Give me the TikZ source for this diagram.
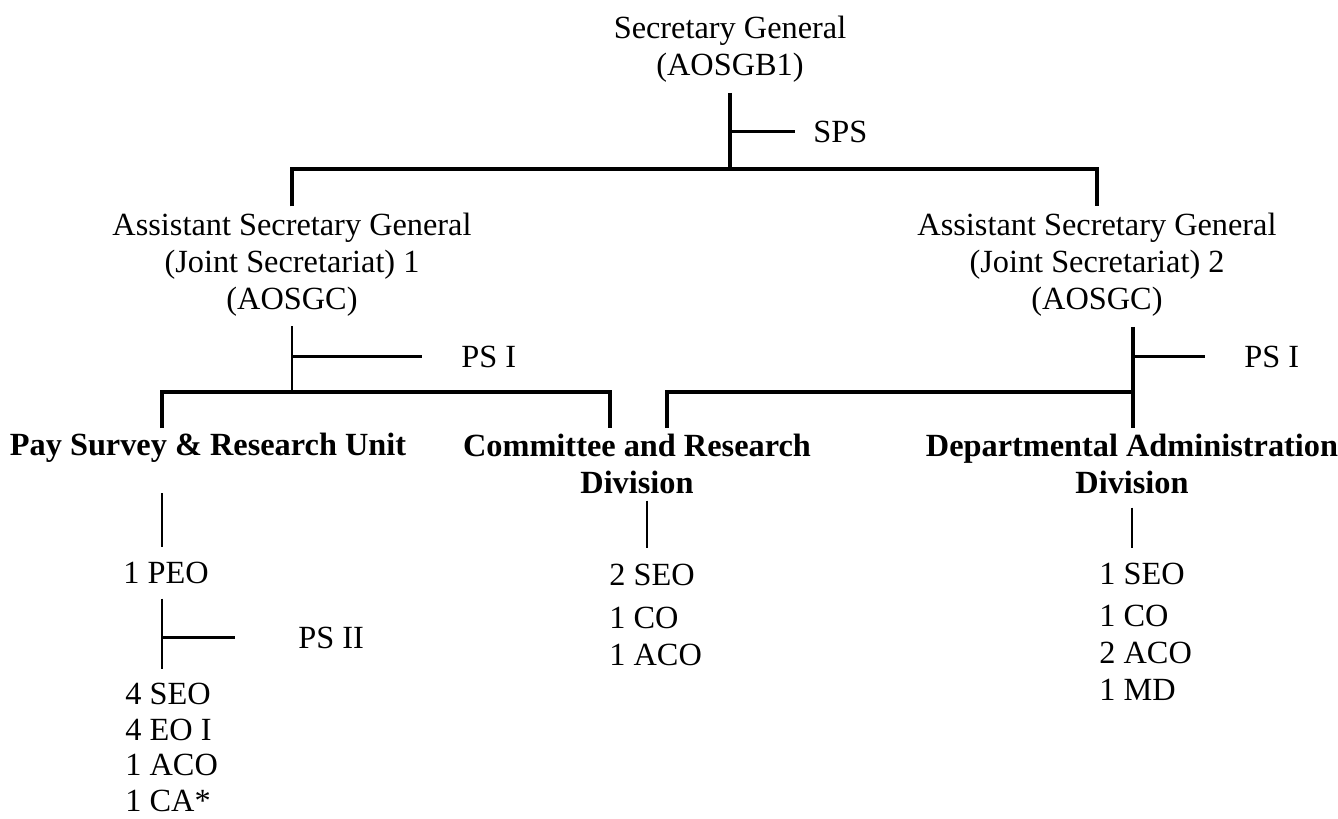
\documentclass[tikz,border=0pt]{standalone}
\usepackage{fontspec}
\setmainfont{Liberation Serif}
\usetikzlibrary{positioning,calc}
\newcommand{\orgfont}{\fontsize{18.4}{21}\selectfont}
\tikzstyle{pN}=[inner sep=0pt, anchor=base, align=center, font=\orgfont]
\tikzstyle{hN}=[inner sep=0pt, anchor=base, align=center, font=\orgfont\bfseries]
\tikzstyle{lN}=[inner sep=0pt, anchor=base west, align=left, font=\orgfont]
\tikzstyle{sN}=[inner sep=0pt, anchor=base west, font=\orgfont]
\tikzstyle{eBar}=[line width=1.8pt, draw=black]
\tikzstyle{eStem}=[line width=1pt, draw=black]

\begin{document}
\begin{tikzpicture}[x=0.02cm, y=-0.02cm]
\useasboundingbox (0,0) rectangle (1338,818);

                % multi-line nodes sit on the baseline of their last line
                \draw (730,75) node[pN] (sg) {Secretary General\\(AOSGB1)};
                \draw (292,309) node[pN] (asg1) {Assistant Secretary General\\(Joint Secretariat) 1\\(AOSGC)};
                \draw (1097,309) node[pN] (asg2) {Assistant Secretary General\\(Joint Secretariat) 2\\(AOSGC)};

                \draw (208,455) node[hN] (psru) {Pay Survey \& Research Unit};
                \draw (637,493) node[hN] (crd) {Committee and Research\\Division};
                \draw (1132,493) node[hN] (dad) {Departmental Administration\\Division};

                \draw (813,142) node[sN] (sps) {SPS};
                \draw (461,367) node[sN] (ps1a) {PS I};
                \draw (1244,367) node[sN] (ps1b) {PS I};
                \draw (298,648) node[sN] (ps2) {PS II};

                \draw (166,583) node[pN] (peo) {1 PEO};
                \draw (125,811) node[lN] (stP) {4 SEO\\[-0.8pt]4 EO I\\[-0.8pt]1 ACO\\[-0.8pt]1 CA*};
                \draw (609,665) node[lN] (stC) {2 SEO\\[3pt]1 CO\\1 ACO};
                \draw (1099,700) node[lN] (stD) {1 SEO\\[3pt]1 CO\\2 ACO\\1 MD};

                % junctions
                \coordinate (j0) at (730,169);
                \coordinate (j1) at (292,394);
                \coordinate (j2) at (1133,392);
                \coordinate (f0) at (162,428);
                \coordinate (f1) at (610,428);
                \coordinate (f2) at (667,428);
                \coordinate (f3) at (1133,428);

                \draw[eBar, shorten <=6pt] (sg.south) -- (j0);
                \draw[eBar, shorten >=10pt] (sg.south |- sps.west) -- (sps.west);
                \draw[eBar, shorten <=3.4pt, shorten >=3.4pt] (asg1.north) -- (asg1.north |- j0) -- (asg2.north |- j0) -- (asg2.north);

                \draw[eStem, shorten <=5.7pt] (asg1.south) -- (j1);
                \draw[eBar, shorten >=22pt] (asg1.south |- ps1a.west) -- (ps1a.west);
                \draw[eBar] (f0) -- (f0 |- j2) -- (f1 |- j2) -- (f1);

                \draw[eBar, shorten <=6pt] (asg2.south -| f3) -- (f3);
                \draw[eBar, shorten >=22pt] (f3 |- ps1b.west) -- (ps1b.west);
                \draw[eBar] (f2) -- (f2 |- j2) -- (j2);

                \draw[eStem, shorten <=17.6pt, shorten >=8pt] (psru.south -| f0) -- (peo.north -| f0);
                \draw[eStem, shorten <=8.5pt, shorten >=8pt] (peo.south -| f0) -- (stP.north -| f0);
                \draw[eBar, shorten >=35.7pt] (f0 |- ps2.west) -- (ps2.west);

                \draw[eStem, shorten <=4pt, shorten >=9pt] ([xshift=5.7pt]crd.south) -- ([xshift=5.7pt]crd.south |- stC.north);
                \draw[eStem, shorten <=8pt, shorten >=8pt] (dad.south) -- (dad.south |- stD.north);

\end{tikzpicture}
\end{document}
